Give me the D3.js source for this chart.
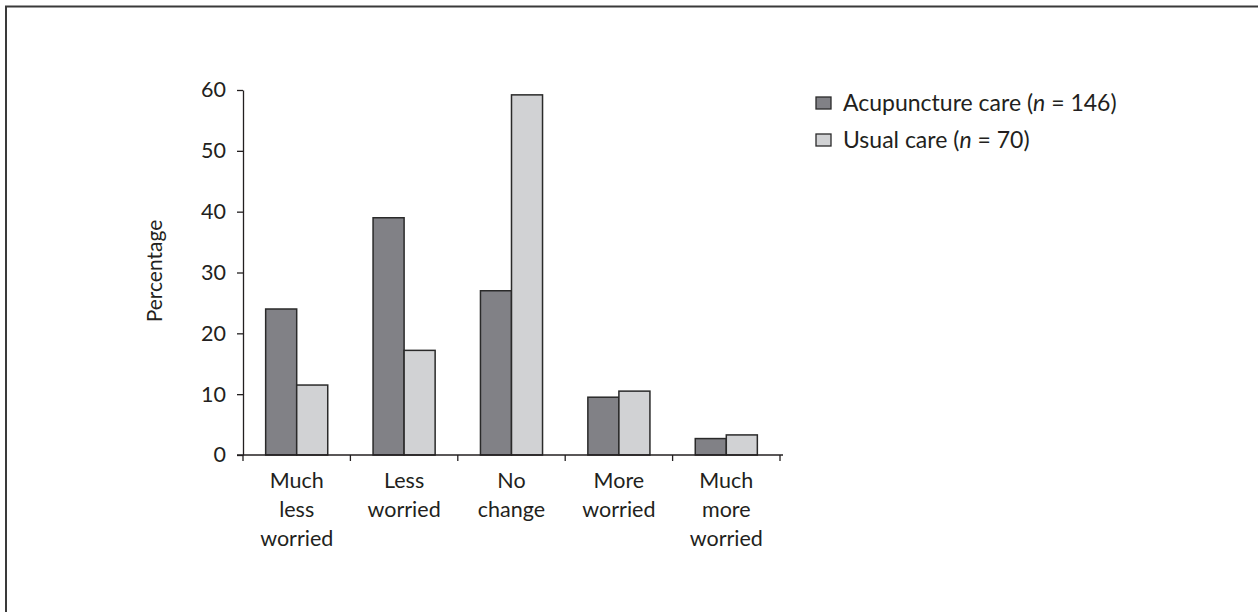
<!DOCTYPE html>
<html>
<head>
<meta charset="utf-8">
<script src="https://cdn.jsdelivr.net/npm/d3@7"></script>
<style>
  html, body { margin: 0; padding: 0; background: #fff; }
  svg { display: block; font-family: Lato, "Open Sans", sans-serif; }
</style>
</head>
<body>
<svg id="chart" width="1258" height="612"></svg>
<script>
const categories = ["Much less worried", "Less worried", "No change", "More worried", "Much more worried"];
const categoryLines = [["Much", "less", "worried"], ["Less", "worried"], ["No", "change"], ["More", "worried"], ["Much", "more", "worried"]];
const seriesNames = ["Acupuncture care", "Usual care"];
const seriesN = [146, 70];
const acupunctureValues = [24.0, 39.0, 27.0, 9.5, 2.7];
const usualValues = [11.5, 17.2, 59.2, 10.5, 3.3];
const yTicks = [0, 10, 20, 30, 40, 50, 60];
const seriesColors = ["#818186", "#d1d2d4"];

const svg = d3.select("#chart");
const ink = "#231f20";

// frame
svg.append("rect").attr("x", 6).attr("y", 6.5).attr("width", 1270).attr("height", 630)
  .attr("fill", "none").attr("stroke", "#3a3a3a").attr("stroke-width", 2);

const y = d3.scaleLinear().domain([0, 60]).range([455, 90]);
const x = d3.scaleBand().domain(categories).range([243, 780]).paddingInner(0).paddingOuter(0);
const xSub = d3.scaleBand().domain(seriesNames).range([0, x.bandwidth()]).paddingInner(0).paddingOuter(0.73);

// y axis
const yAxis = svg.append("g").attr("transform", "translate(243,0)")
  .call(d3.axisLeft(y).tickValues(yTicks).tickSize(6).tickSizeOuter(0).tickPadding(11));
yAxis.select(".domain").attr("stroke", ink).attr("stroke-width", 1.3);
yAxis.selectAll(".tick line").attr("stroke", ink).attr("stroke-width", 1.3);
yAxis.selectAll(".tick text").attr("fill", ink).style("font-size", "21.5px").style("font-family", "Lato, sans-serif");

// bars
const data = categories.map((c, i) => ({ cat: c, vals: [acupunctureValues[i], usualValues[i]] }));
const groups = svg.append("g").selectAll("g").data(data).join("g")
  .attr("transform", d => `translate(${x(d.cat)},0)`);
groups.selectAll("rect").data(d => d.vals.map((v, j) => ({ s: seriesNames[j], v, j })))
  .join("rect")
  .attr("x", d => xSub(d.s))
  .attr("width", xSub.bandwidth())
  .attr("y", d => y(d.v))
  .attr("height", d => y(0) - y(d.v))
  .attr("fill", d => seriesColors[d.j])
  .attr("stroke", "#2a2a2a").attr("stroke-width", 1.5);

// x axis
const xg = svg.append("g");
xg.append("line").attr("x1", 237).attr("x2", 783).attr("y1", y(0)).attr("y2", y(0))
  .attr("stroke", ink).attr("stroke-width", 1.3);
const boundaries = categories.map(c => x(c)).concat([x.range()[1]]);
xg.selectAll("line.tk").data(boundaries).join("line").attr("class", "tk")
  .attr("x1", d => d).attr("x2", d => d).attr("y1", y(0)).attr("y2", y(0) + 6)
  .attr("stroke", ink).attr("stroke-width", 1.3);
const labels = xg.selectAll("text.xl").data(categories).join("text").attr("class", "xl")
  .attr("text-anchor", "middle").attr("fill", ink).style("font-size", "21.5px")
  .attr("transform", d => `translate(${x(d) + x.bandwidth() / 2},0)`);
labels.selectAll("tspan").data((d, i) => categoryLines[i]).join("tspan")
  .attr("x", 0).attr("y", (d, k) => 488 + k * 29).text(d => d);

// y label
svg.append("text").attr("transform", "translate(162,271) rotate(-90)")
  .attr("text-anchor", "middle").attr("fill", ink).style("font-size", "21px").text("Percentage");

// legend
const legend = svg.append("g").selectAll("g").data(seriesNames).join("g")
  .attr("transform", (d, i) => `translate(816,${97 + i * 37})`);
legend.append("rect").attr("width", 15).attr("height", 12)
  .attr("fill", (d, i) => seriesColors[i]).attr("stroke", "#2a2a2a").attr("stroke-width", 1.3);
const lt = legend.append("text").attr("x", 27).attr("y", 14).attr("fill", ink).style("font-size", "23px");
lt.append("tspan").text(d => d + " (");
lt.append("tspan").style("font-style", "italic").text("n");
lt.append("tspan").text((d, i) => " = " + seriesN[i] + ")");
</script>
</body>
</html>
